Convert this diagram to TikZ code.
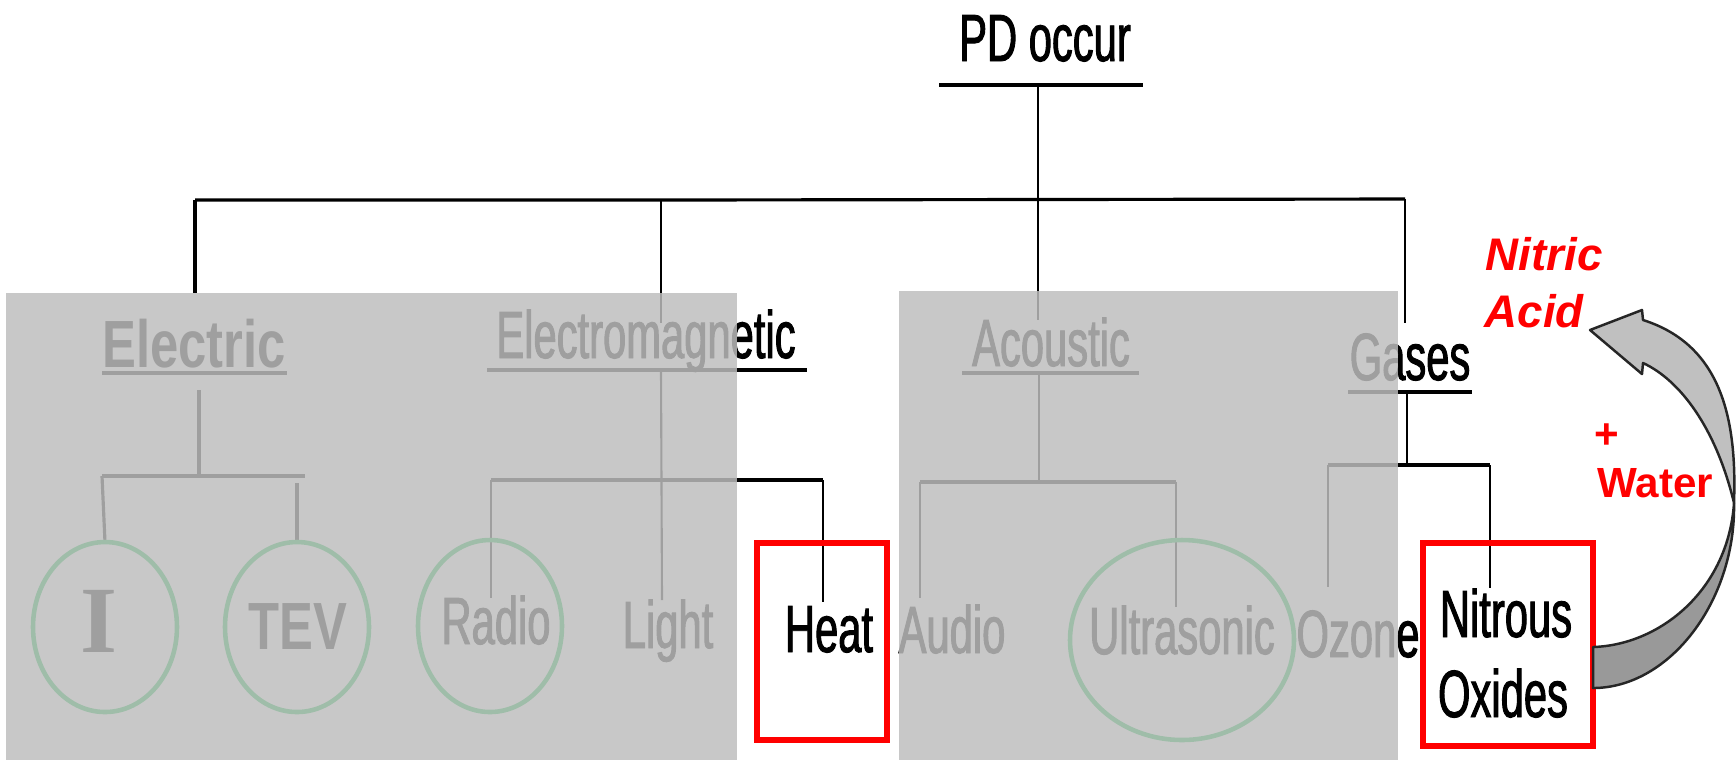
\documentclass[tikz,border=0pt]{standalone}
\usepackage{fontspec}
\setmainfont{Liberation Sans}
\newfontfamily\condfont{Liberation Sans}[FakeStretch=0.625, FakeBold=1.4]
\newfontfamily\condbold{Liberation Sans}[FakeStretch=0.76]
\newfontfamily\serifI{Liberation Serif}
\definecolor{ringgreen}{RGB}{0,185,65}
\definecolor{veilgrey}{RGB}{190,190,190}
\definecolor{arrowlite}{RGB}{192,192,192}
\definecolor{arrowdark}{RGB}{153,153,153}

\begin{document}
\begin{tikzpicture}[x=0.1mm, y=-0.1mm,
  lbl/.style ={anchor=base, inner sep=0pt, font=\condfont\fontsize{19}{21}\selectfont},
  blbl/.style={anchor=base, inner sep=0pt, font=\condbold\bfseries\fontsize{19}{21}\selectfont},
  note/.style={anchor=base west, inner sep=0pt, text=red, font=\bfseries\fontsize{12}{14}\selectfont},
  wire/.style ={line width=0.6pt},
  heavy/.style={line width=0.9pt},
  ring/.style ={draw=ringgreen, line width=1.3pt},
  hit/.style  ={draw=red, line width=1.5pt},
  veil/.style ={fill=veilgrey, fill opacity=0.84},
  ribbon/.style={draw=black!85, line width=0.7pt, line join=round}]

  \useasboundingbox (0,0) rectangle (1736,760);
  \fill[white] (0,0) rectangle (1736,760);

  % root and main rail
  \node[lbl] (pd) at (1045,61) {PD occur};
  \coordinate (pdUlL) at (939,85);  \coordinate (pdUlR) at (1143,85);
  \coordinate (pdBase) at (1038,85); \coordinate (acTop) at (1038,320);
  \coordinate (barL) at (195,200);  \coordinate (barEM) at (661,200);
  \coordinate (barR) at (1405,199);
  \coordinate (elTop) at (195,293); \coordinate (emTop) at (661,323);
  \coordinate (gaTop) at (1405,323);
  \draw[heavy] (pdUlL) -- (pdUlR);
  \draw[wire]  (pdBase) -- (acTop);
  \draw[heavy] (barL) -- (barEM) -- (barR);
  \draw[heavy] (barL) -- (elTop);
  \draw[wire]  (barEM) -- (emTop);
  \draw[wire]  (barR) -- (gaTop);

  % group headings (underlined)
  \node[blbl] (electric) at (194,367)  {Electric};
  \node[lbl]  (emag)     at (646,358)  {Electromagnetic};
  \node[lbl]  (acoustic) at (1051,366) {Acoustic};
  \node[lbl]  (gases)    at (1410,380) {Gases};
  \coordinate (elUlL) at (102,373);  \coordinate (elUlR) at (287,373);
  \coordinate (emUlL) at (487,370);  \coordinate (emUlR) at (807,370);
  \coordinate (acUlL) at (962,373);  \coordinate (acUlR) at (1139,373);
  \coordinate (gaUlL) at (1348,392); \coordinate (gaUlR) at (1472,392);
  \draw[heavy] (elUlL) -- (elUlR);
  \draw[heavy] (emUlL) -- (emUlR);
  \draw[heavy] (acUlL) -- (acUlR);
  \draw[heavy] (gaUlL) -- (gaUlR);

  % Electric : I , TEV
  \coordinate (elFoot) at (199,390); \coordinate (elFork) at (199,476);
  \coordinate (elForkL) at (102,476); \coordinate (elForkR) at (305,476);
  \coordinate (tevStub) at (297,483);
  \coordinate (iTop) at (105,542);    \coordinate (tevTop) at (297,542);
  \draw[heavy] (elFoot) -- (elFork);
  \draw[heavy] (elForkL) -- (elForkR);
  \draw[heavy] (elForkL) -- (iTop);
  \draw[heavy] (tevStub) -- (tevTop);
  \draw[ring] (105,627) ellipse [x radius=7.2mm, y radius=8.5mm];
  \draw[ring] (297,627) ellipse [x radius=7.2mm, y radius=8.5mm];
  \node[anchor=base, inner sep=0pt, font=\serifI\bfseries\fontsize{27}{29}\selectfont] (curI) at (99,652) {I};
  \node[blbl] (tev) at (298,649) {TEV};

  % Electromagnetic : Radio , Light , Heat
  \coordinate (emFoot) at (661,370);   \coordinate (lightTop) at (662,600);
  \coordinate (emForkL) at (491,480);  \coordinate (emForkR) at (823,480);
  \coordinate (radioTop) at (491,598); \coordinate (heatTop) at (823,602);
  \draw[wire]  (emFoot) -- (lightTop);
  \draw[heavy] (emForkL) -- (emForkR);
  \draw[wire]  (emForkL) -- (radioTop);
  \draw[wire]  (emForkR) -- (heatTop);
  \draw[ring] (490,626) ellipse [x radius=7.2mm, y radius=8.6mm];
  \node[lbl] (radio) at (496,644) {Radio};
  \node[lbl] (light) at (668,648) {Light};
  \node[lbl] (heat)  at (829,652) {Heat};

  % Acoustic : Audio , Ultrasonic
  \coordinate (acFoot) at (1039,373);  \coordinate (acFork) at (1039,482);
  \coordinate (acForkL) at (920,482);  \coordinate (acForkR) at (1176,482);
  \coordinate (audioTop) at (920,598); \coordinate (ultraTop) at (1176,607);
  \draw[wire]  (acFoot) -- (acFork);
  \draw[heavy] (acForkL) -- (acForkR);
  \draw[wire]  (acForkL) -- (audioTop);
  \draw[wire]  (acForkR) -- (ultraTop);
  \draw[ring] (1182,640) ellipse [x radius=11.2mm, y radius=10mm];
  \node[lbl] (audio) at (952,653)  {Audio};
  \node[lbl] (ultra) at (1182,654) {Ultrasonic};

  % Gases : Ozone , Nitrous Oxides
  \coordinate (gaFoot) at (1407,392);   \coordinate (gaFork) at (1407,465);
  \coordinate (gaForkL) at (1328,465);  \coordinate (gaForkR) at (1490,465);
  \coordinate (ozoneTop) at (1328,587); \coordinate (nitroTop) at (1490,588);
  \draw[wire]  (gaFoot) -- (gaFork);
  \draw[heavy] (gaForkL) -- (gaForkR);
  \draw[wire]  (gaForkL) -- (ozoneTop);
  \draw[wire]  (gaForkR) -- (nitroTop);
  \node[lbl] (ozone)   at (1358,657) {Ozone};
  \node[lbl] (nitrous) at (1506,637) {Nitrous};
  \node[lbl] (oxides)  at (1503,717) {Oxides};

  % greyed-out parts
  \fill[veil] (6,293) rectangle (737,760);
  \fill[veil] (899,291) rectangle (1398,760);

  % highlighted products
  \draw[hit] (757,543) rectangle (887,740);
  \draw[hit] (1423,543) rectangle (1593,746);

  % curved arrow : Nitrous Oxides -> Nitric Acid
  \coordinate (twist) at (1734,503);
  \coordinate (baseTop) at (1593,647); \coordinate (baseBot) at (1593,688);
  \coordinate (neckUp) at (1643,320);  \coordinate (neckLo) at (1643,363);
  \coordinate (barbUp) at (1642,310);  \coordinate (barbLo) at (1642,374);
  \coordinate (tip) at (1590,330);
  \filldraw[ribbon, fill=arrowdark] (baseTop) .. controls (1660,645) and (1728,590) .. (twist)
    .. controls (1736,600) and (1670,688) .. (baseBot) -- cycle;
  \filldraw[ribbon, fill=arrowlite] (twist) .. controls (1737,420) and (1722,345) .. (neckUp)
    -- (barbUp) -- (tip) -- (barbLo) -- (neckLo)
    .. controls (1680,380) and (1716,428) .. (twist) -- cycle;

  % reaction notes
  \node[note, font=\bfseries\itshape\fontsize{13}{15}\selectfont] (nitric) at (1485,270) {Nitric};
  \node[note, font=\bfseries\itshape\fontsize{13}{15}\selectfont] (acid)   at (1484,327) {Acid};
  \node[note] (plus)  at (1594,448) {+};
  \node[note] (water) at (1597,497) {Water};
\end{tikzpicture}
\end{document}
